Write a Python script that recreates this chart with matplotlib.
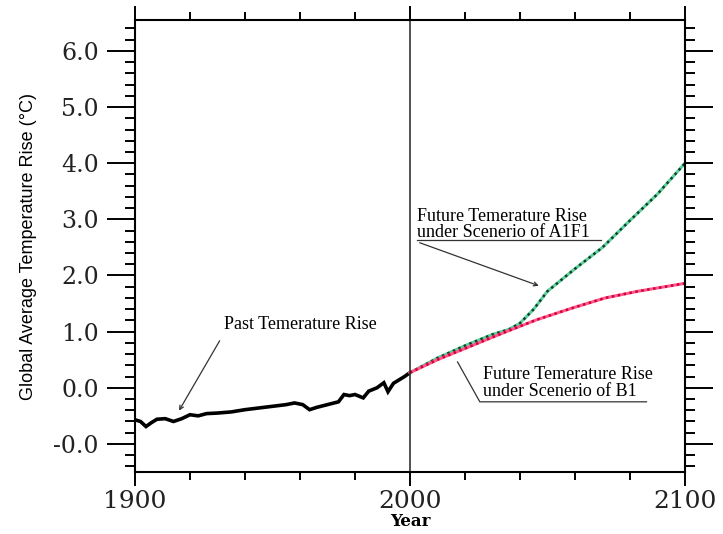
import matplotlib
matplotlib.use("Agg")
import matplotlib.pyplot as plt
from matplotlib.ticker import FixedLocator, FixedFormatter, MultipleLocator

# Observed global average temperature rise, 1900-2000 (deg C)
past_years = [1900, 1902, 1904, 1906, 1908, 1911, 1914, 1917, 1920, 1923, 1926,
              1930, 1935, 1940, 1945, 1950, 1955, 1958, 1961, 1963.5, 1966, 1970,
              1974, 1976, 1978, 1980, 1983, 1985, 1988, 1990.5, 1992, 1994,
              1996, 1998, 2000]
past_temp = [-0.57, -0.60, -0.69, -0.62, -0.56, -0.55, -0.60, -0.55, -0.48, -0.50, -0.46,
             -0.45, -0.43, -0.39, -0.36, -0.33, -0.30, -0.27, -0.30, -0.39, -0.35, -0.30,
             -0.25, -0.12, -0.14, -0.12, -0.18, -0.06, 0.00, 0.09, -0.07, 0.08,
             0.14, 0.20, 0.27]

# Projected rise under scenario A1F1
a1f1_years = [2000, 2010, 2020, 2030, 2036, 2040, 2045, 2050, 2055, 2060, 2070,
              2080, 2090, 2100]
a1f1_temp = [0.27, 0.53, 0.75, 0.95, 1.04, 1.15, 1.40, 1.72, 1.92, 2.12, 2.50,
             2.98, 3.45, 4.00]

# Projected rise under scenario B1
b1_years = [2000, 2010, 2022, 2034, 2046, 2059, 2071, 2083, 2100]
b1_temp = [0.27, 0.50, 0.74, 0.98, 1.21, 1.42, 1.60, 1.72, 1.86]

y_ticks = [-1, 0, 1, 2, 3, 4, 5, 6]
y_tick_labels = ["-0.0", "0.0", "1.0", "2.0", "3.0", "4.0", "5.0", "6.0"]
x_ticks = [1900, 2000, 2100]

serif = "DejaVu Serif"
text_serif = "Liberation Serif"
note_size = 13

fig = plt.figure(figsize=(7.23, 5.34), dpi=100)
ax = fig.add_axes([0.1867, 0.1161, 0.7607, 0.8464])

ax.plot(past_years, past_temp, color="black", lw=2.6, solid_joinstyle="miter")

ax.plot(a1f1_years, a1f1_temp, color="#59d29c", lw=2.2)
ax.plot(a1f1_years, a1f1_temp, color="#163a2a", lw=1.8, ls=(0, (1, 1.4)))

ax.plot(b1_years, b1_temp, color="#ff5a8c", lw=2.2)
ax.plot(b1_years, b1_temp, color="#d0003c", lw=1.8, ls=(0, (1, 1.4)))

ax.axvline(2000, color="#222222", lw=1.1)

ax.set_xlim(1900, 2100)
ax.set_ylim(-1.5, 6.55)

ax.yaxis.set_major_locator(FixedLocator(y_ticks))
ax.yaxis.set_major_formatter(FixedFormatter(y_tick_labels))
ax.yaxis.set_minor_locator(MultipleLocator(0.2))
ax.xaxis.set_major_locator(FixedLocator(x_ticks))
ax.xaxis.set_minor_locator(MultipleLocator(20))

ax.tick_params(which="both", direction="out", top=True, right=True, width=1.4, colors="black")
ax.tick_params(axis="y", which="major", length=20, pad=6)
ax.tick_params(axis="y", which="minor", length=7)
ax.tick_params(axis="x", which="major", length=10, pad=3)
ax.tick_params(axis="x", which="minor", length=6)

for lab in ax.get_yticklabels():
    lab.set_fontfamily(serif)
    lab.set_fontsize(17)
    lab.set_color("#222222")
for lab in ax.get_xticklabels():
    lab.set_fontfamily(serif)
    lab.set_fontsize(18)
    lab.set_color("#222222")

for sp in ax.spines.values():
    sp.set_linewidth(1.5)

ax.set_ylabel("Global Average Temperature Rise (°C)", fontsize=13,
              family=["Liberation Sans", "DejaVu Sans"], labelpad=12)
ax.set_xlabel("Year", fontsize=12, family=serif, fontweight="bold", va="bottom")
ax.xaxis.set_label_coords(0.5, -0.129)

# Past rise label and pointer
ax.text(1932.5, 1.12, "Past Temerature Rise", fontsize=note_size, family=text_serif, va="center")
ax.annotate("", xy=(1915.5, -0.45), xytext=(1931.3, 0.88),
            arrowprops=dict(arrowstyle="->", color="#333333", lw=0.9, mutation_scale=7))

# A1F1 label, underline and pointer
ax.text(2002.6, 3.05, "Future Temerature Rise", fontsize=note_size, family=text_serif, va="center")
ax.text(2002.6, 2.77, "under Scenerio of A1F1", fontsize=note_size, family=text_serif, va="center")
ax.plot([2002.6, 2069.5], [2.64, 2.64], color="#333333", lw=0.9)
ax.annotate("", xy=(2047.8, 1.80), xytext=(2002.6, 2.60),
            arrowprops=dict(arrowstyle="->", color="#333333", lw=0.9, mutation_scale=7))

# B1 label with leader line
ax.text(2026.5, 0.23, "Future Temerature Rise", fontsize=note_size, family=text_serif, va="center")
ax.text(2026.5, -0.07, "under Scenerio of B1", fontsize=note_size, family=text_serif, va="center")
ax.plot([2017.3, 2025.4, 2086], [0.46, -0.25, -0.25], color="#333333", lw=0.9)

fig.savefig("out.png", dpi=100, facecolor="white")
